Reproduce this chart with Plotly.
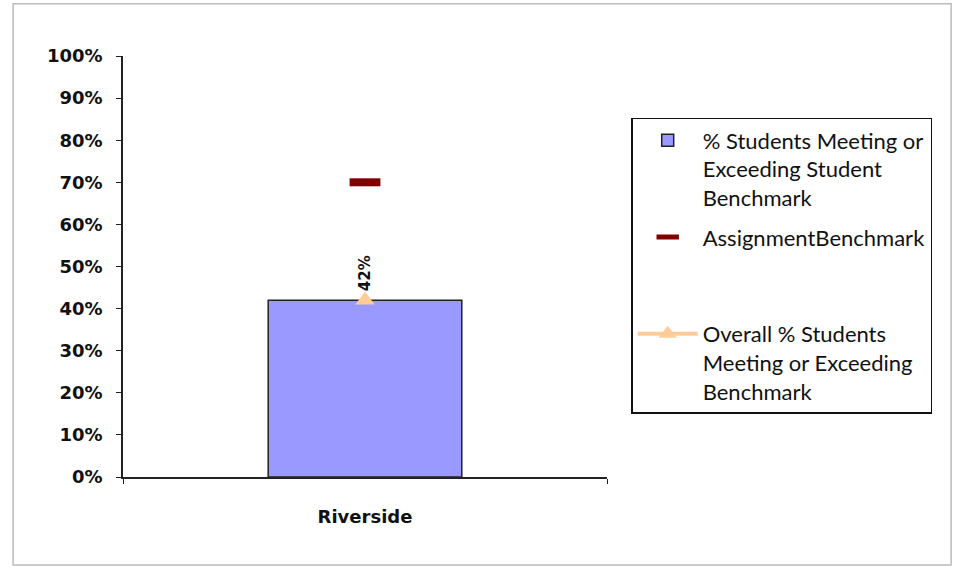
import plotly.graph_objects as go

categories = ["Riverside"]
pct_meeting = [0.42]
assignment_benchmark = [0.70]
overall_pct = [0.42]
y_ticks = [0, 0.1, 0.2, 0.3, 0.4, 0.5, 0.6, 0.7, 0.8, 0.9, 1.0]
y_tick_labels = [f"{int(round(v*100))}%" for v in y_ticks]

fig = go.Figure()
fig.add_trace(go.Bar(
    x=categories, y=pct_meeting,
    name="% Students Meeting or<br>Exceeding Student<br>Benchmark",
    marker=dict(color="#9999FF", line=dict(color="#222222", width=1.5)),
    width=0.4, legendgroup="g1",
))
fig.add_trace(go.Scatter(
    x=categories, y=assignment_benchmark, mode="markers",
    name="AssignmentBenchmark<br> <br> ",
    marker=dict(symbol="line-ew", size=22, line=dict(color="#800000", width=8)),
    legendgroup="g2",
))
fig.add_trace(go.Scatter(
    x=categories, y=overall_pct, mode="lines+markers",
    name="Overall % Students<br>Meeting or Exceeding<br>Benchmark",
    line=dict(color="#FFCC99", width=4),
    marker=dict(symbol="triangle-up", size=17, color="#FFCC99"),
    legendgroup="g3",
))
for c, v in zip(categories, overall_pct):
    fig.add_annotation(x=c, y=v, text=f"<b>{int(round(v*100))}%</b>", textangle=-90,
                       showarrow=False, yanchor="bottom", yshift=7,
                       font=dict(family="DejaVu Sans", size=15, color="#111111"))

# outer border
fig.add_shape(type="rect", xref="paper", yref="paper",
              x0=-0.227, x1=1.711, y0=-0.209, y1=1.124,
              line=dict(color="#BBBBBB", width=1.5), layer="below")

fig.update_layout(
    width=957, height=568,
    margin=dict(l=123, r=350, t=56, b=91),
    paper_bgcolor="white", plot_bgcolor="white",
    showlegend=True,
    legend=dict(x=1.05, y=0.853, xanchor="left", yanchor="top",
                bordercolor="#111111", borderwidth=1.5,
                font=dict(family="Lato", size=22, color="#111111"),
                itemwidth=60, traceorder="grouped", tracegroupgap=8, valign="top"),
    font=dict(family="DejaVu Sans", color="#111111"),
    xaxis=dict(showline=True, linecolor="#222222", linewidth=1.5,
               ticks="outside", tickson="boundaries", ticklen=5, tickcolor="#222222",
               tickfont=dict(family="DejaVu Sans", size=18, color="#111111"),
               ticklabelstandoff=23,
               tickprefix="<b>", ticksuffix="</b>", showgrid=False),
    yaxis=dict(range=[0, 1.0], tickvals=y_ticks, ticktext=[f"<b>{t}</b>" for t in y_tick_labels],
               showline=True, linecolor="#222222", linewidth=1.5,
               ticks="outside", ticklen=5, tickcolor="#222222",
               ticklabelstandoff=10,
               tickfont=dict(family="DejaVu Sans", size=18, color="#111111"),
               showgrid=False, zeroline=False),
)
fig.write_html("out.html", config={"displayModeBar": False})
with open("out.html", "r", encoding="utf-8") as f:
    html = f.read()
html = html.replace("<head>", "<head><style>body{margin:0;}</style>", 1)
with open("out.html", "w", encoding="utf-8") as f:
    f.write(html)
